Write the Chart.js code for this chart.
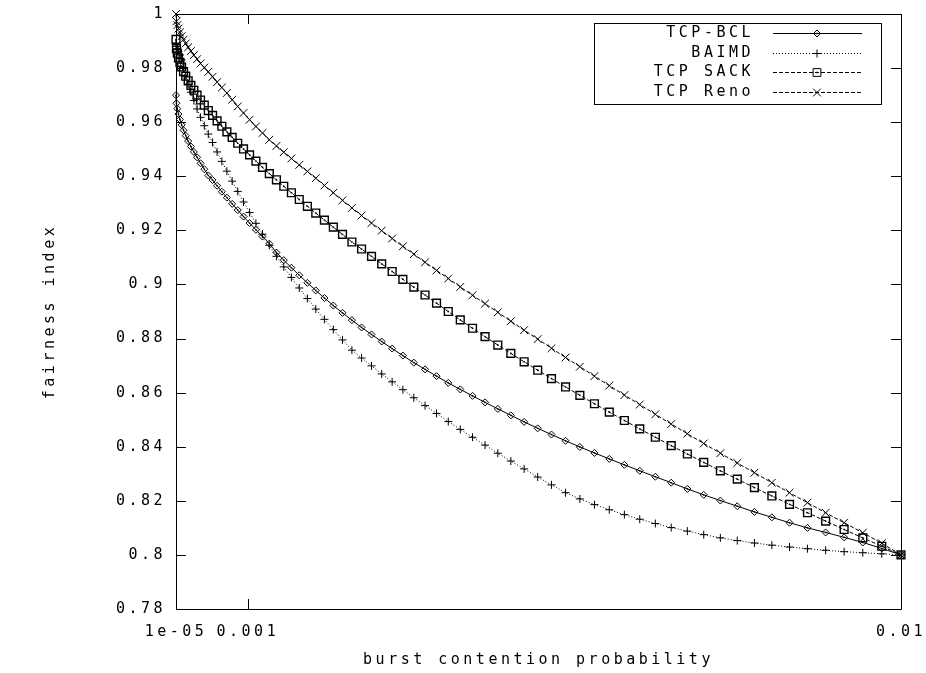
<!DOCTYPE html>
<html>
<head>
<meta charset="utf-8">
<title>fairness index vs burst contention probability</title>
<script src="https://cdn.jsdelivr.net/npm/chart.js@4.4.0/dist/chart.umd.min.js"></script>
<style>
  html, body { margin: 0; padding: 0; background: #fff; }
  canvas { display: block; }
</style>
</head>
<body>
<canvas id="fairness-chart" width="926" height="673"></canvas>
<script>
// burst contention probability, same sample points for every curve
const burstProb = [
  0.00001, 0.000016, 0.0000284, 0.0000444, 0.000064, 0.0000871, 0.0001138, 0.000144, 0.0001778, 0.0002151,
  0.000256, 0.0003004, 0.0003484, 0.0004, 0.0004551, 0.0005138, 0.000576, 0.0006418, 0.0007111, 0.000784,
  0.0008604, 0.0009404, 0.001024, 0.0011111, 0.0012018, 0.001296, 0.0013938, 0.0014951, 0.0016, 0.0017084,
  0.0018204, 0.001936, 0.0020551, 0.0021778, 0.002304, 0.0024338, 0.0025671, 0.002704, 0.0028444, 0.0029884,
  0.003136, 0.0032871, 0.0034418, 0.0036, 0.0037618, 0.0039271, 0.004096, 0.0042684, 0.0044444, 0.004624,
  0.0048071, 0.0049938, 0.005184, 0.0053778, 0.0055751, 0.005776, 0.0059804, 0.0061884, 0.0064, 0.0066151,
  0.0068338, 0.007056, 0.0072818, 0.0075111, 0.007744, 0.0079804, 0.0082204, 0.008464, 0.0087111, 0.0089618,
  0.009216, 0.0094738, 0.0097351, 0.01
];

// fairness index per curve
const tcpBcl = [
  0.970, 0.967, 0.965, 0.963, 0.961, 0.959, 0.957, 0.955, 0.953, 0.951,
  0.949, 0.947, 0.9448, 0.9426, 0.9403, 0.9386, 0.9365, 0.9343, 0.9321, 0.9298,
  0.9275, 0.9251, 0.9227, 0.9202, 0.9177, 0.9151, 0.9118, 0.909, 0.9062, 0.9034,
  0.9006, 0.8978, 0.895, 0.8922, 0.8895, 0.8868, 0.8841, 0.8815, 0.8789, 0.8763,
  0.8737, 0.8711, 0.8686, 0.8661, 0.8636, 0.8612, 0.8588, 0.8564, 0.854, 0.8516,
  0.8492, 0.8468, 0.8445, 0.8422, 0.8399, 0.8377, 0.8355, 0.8333, 0.8311, 0.8289,
  0.8267, 0.8244, 0.8222, 0.8201, 0.818, 0.8159, 0.8139, 0.8119, 0.81, 0.8083,
  0.8065, 0.8046, 0.8024, 0.8
];
const baimd = [
  0.989, 0.988, 0.9872, 0.9862, 0.9848, 0.983, 0.980, 0.977, 0.9741, 0.9711,
  0.968, 0.9649, 0.9618, 0.9587, 0.9556, 0.9525, 0.949, 0.9455, 0.9419, 0.9382,
  0.9344, 0.9305, 0.9266, 0.9226, 0.9186, 0.9145, 0.9104, 0.9065, 0.9026, 0.8987,
  0.8948, 0.8909, 0.8871, 0.8833, 0.8795, 0.8757, 0.8728, 0.8699, 0.8669, 0.864,
  0.8611, 0.8581, 0.8552, 0.8523, 0.8493, 0.8464, 0.8435, 0.8406, 0.8376, 0.8347,
  0.8318, 0.8288, 0.8259, 0.823, 0.8207, 0.8186, 0.8167, 0.8149, 0.8132, 0.8116,
  0.8101, 0.8088, 0.8075, 0.8063, 0.8053, 0.8044, 0.8036, 0.8029, 0.8023, 0.8017,
  0.8012, 0.8008, 0.8004, 0.8
];
const tcpSack = [
  0.9906, 0.9872, 0.9855, 0.9838, 0.9821, 0.9804, 0.9787, 0.977, 0.9753, 0.9736,
  0.9718, 0.97, 0.9682, 0.9663, 0.9643, 0.9625, 0.9605, 0.9585, 0.9564, 0.9544,
  0.9522, 0.9501, 0.9479, 0.9456, 0.9433, 0.941, 0.9387, 0.9363, 0.9339, 0.9314,
  0.9289, 0.9264, 0.9238, 0.9212, 0.9185, 0.9157, 0.9131, 0.9104, 0.9076, 0.9048,
  0.9019, 0.899, 0.8961, 0.8931, 0.89, 0.8869, 0.8838, 0.8807, 0.8776, 0.8745,
  0.8714, 0.8683, 0.8652, 0.8621, 0.859, 0.8559, 0.8528, 0.8497, 0.8466, 0.8435,
  0.8404, 0.8373, 0.8342, 0.8311, 0.828, 0.8249, 0.8218, 0.8187, 0.8156, 0.8125,
  0.8094, 0.8063, 0.8032, 0.8
];
const tcpReno = [
  1.0, 0.9973, 0.9959, 0.9946, 0.9932, 0.9918, 0.9905, 0.9891, 0.9877, 0.9863,
  0.9848, 0.9833, 0.9817, 0.9802, 0.9786, 0.9768, 0.9748, 0.9728, 0.9708, 0.9683,
  0.9658, 0.9634, 0.9609, 0.9584, 0.956, 0.9535, 0.9512, 0.9489, 0.9466, 0.9442,
  0.9418, 0.9393, 0.9366, 0.9339, 0.9311, 0.9283, 0.9255, 0.9227, 0.9199, 0.917,
  0.9141, 0.9112, 0.9082, 0.9052, 0.9022, 0.8991, 0.896, 0.8929, 0.8897, 0.8864,
  0.8831, 0.8798, 0.8764, 0.873, 0.8696, 0.8661, 0.8626, 0.8591, 0.8556, 0.852,
  0.8484, 0.8448, 0.8412, 0.8376, 0.834, 0.8304, 0.8267, 0.823, 0.8193, 0.8156,
  0.8119, 0.8082, 0.8043, 0.8
];

const seriesNames = ['TCP-BCL', 'BAIMD', 'TCP SACK', 'TCP Reno'];

const xTicks = [0.00001, 0.001, 0.01];
const xTickLabels = ['1e-05', '0.001', '0.01'];
const yTicks = [0.78, 0.8, 0.82, 0.84, 0.86, 0.88, 0.9, 0.92, 0.94, 0.96, 0.98, 1];
const yTickLabels = ['0.78', '0.8', '0.82', '0.84', '0.86', '0.88', '0.9', '0.92', '0.94', '0.96', '0.98', '1'];

const monoFont = { family: '"DejaVu Sans Mono", monospace', size: 15 };

function toPoints(ys) {
  return ys.map((y, i) => ({ x: burstProb[i], y: y }));
}

function makeSeries(name, ys, style) {
  return Object.assign({
    label: name,
    data: toPoints(ys),
    showLine: true,
    tension: 0,
    borderColor: '#000',
    borderWidth: 1,
    pointBorderColor: '#000',
    pointBackgroundColor: 'rgba(0,0,0,0)',
    pointBorderWidth: 1,
    clip: false
  }, style);
}

// gnuplot style wide letters
const wideText = {
  id: 'wideText',
  beforeDraw(chart) {
    chart.ctx.letterSpacing = '3.5px';
  }
};

// border box plus inward tick marks on all four sides
const frame = {
  id: 'frame',
  beforeDatasetsDraw(chart) {
    const { ctx, chartArea: a, scales: { x, y } } = chart;
    ctx.save();
    ctx.strokeStyle = '#000';
    ctx.lineWidth = 1;
    ctx.beginPath();
    ctx.rect(a.left + 0.5, a.top + 0.5, a.right - a.left, a.bottom - a.top);
    y.ticks.forEach(t => {
      const py = Math.round(y.getPixelForValue(t.value)) + 0.5;
      ctx.moveTo(a.left, py); ctx.lineTo(a.left + 10, py);
      ctx.moveTo(a.right, py); ctx.lineTo(a.right - 10, py);
    });
    x.ticks.forEach(t => {
      const px = Math.round(x.getPixelForValue(t.value)) + 0.5;
      ctx.moveTo(px, a.bottom); ctx.lineTo(px, a.bottom - 10);
      ctx.moveTo(px, a.top); ctx.lineTo(px, a.top + 10);
    });
    ctx.stroke();
    ctx.restore();
  }
};

// little dot in the middle of the hollow markers
const centerDots = {
  id: 'centerDots',
  afterDatasetsDraw(chart) {
    const ctx = chart.ctx;
    ctx.save();
    ctx.fillStyle = '#000';
    chart.data.datasets.forEach((ds, i) => {
      if (!ds.centerDot) return;
      chart.getDatasetMeta(i).data.forEach(pt => {
        ctx.fillRect(pt.x - 0.75, pt.y - 0.75, 1.5, 1.5);
      });
    });
    ctx.restore();
  }
};

// key box in the top right corner
const keyBox = {
  id: 'keyBox',
  afterDraw(chart) {
    const ctx = chart.ctx;
    ctx.save();
    ctx.strokeStyle = '#000';
    ctx.fillStyle = '#000';
    ctx.lineWidth = 1;
    ctx.strokeRect(594.5, 23.5, 287, 81);
    ctx.font = '15px "DejaVu Sans Mono", monospace';
    ctx.textAlign = 'right';
    ctx.textBaseline = 'middle';
    chart.data.datasets.forEach((ds, i) => {
      const yy = 33 + i * 19.7;
      ctx.setLineDash([]);
      ctx.fillText(ds.label, 754, yy);
      ctx.beginPath();
      ctx.setLineDash(ds.borderDash || []);
      ctx.moveTo(773, Math.round(yy) + 0.5);
      ctx.lineTo(862, Math.round(yy) + 0.5);
      ctx.stroke();
      ctx.setLineDash([]);
      ctx.fillStyle = 'rgba(0,0,0,0)';
      Chart.helpers.drawPoint(ctx, {
        pointStyle: ds.pointStyle, radius: ds.pointRadius, rotation: 0, borderWidth: ds.pointBorderWidth
      }, 817, Math.round(yy) + 0.5);
      ctx.fillStyle = '#000';
      if (ds.centerDot) ctx.fillRect(816.25, Math.round(yy) - 0.25, 1.5, 1.5);
    });
    ctx.restore();
  }
};

new Chart(document.getElementById('fairness-chart'), {
  type: 'scatter',
  data: {
    datasets: [
      makeSeries(seriesNames[0], tcpBcl, { pointStyle: 'rectRot', pointRadius: 3.5, centerDot: true }),
      makeSeries(seriesNames[1], baimd, { pointStyle: 'cross', pointRadius: 4, borderDash: [1, 2] }),
      makeSeries(seriesNames[2], tcpSack, { pointStyle: 'rect', pointRadius: 5.5, pointBorderWidth: 1.4, borderDash: [4, 2], centerDot: true }),
      makeSeries(seriesNames[3], tcpReno, { pointStyle: 'crossRot', pointRadius: 5.5, borderDash: [4, 2] })
    ]
  },
  options: {
    responsive: false,
    animation: false,
    devicePixelRatio: 1,
    layout: { padding: { left: 0, right: 25, top: 14, bottom: 0 }, autoPadding: false },
    plugins: {
      legend: { display: false },
      tooltip: { enabled: false }
    },
    scales: {
      x: {
        type: 'linear',
        min: 0.00001,
        max: 0.01,
        afterBuildTicks: s => { s.ticks = xTicks.map(v => ({ value: v })); },
        afterFit: s => { s.height = 64; s.paddingLeft = 0; s.paddingRight = 0; },
        ticks: {
          autoSkip: false, maxRotation: 0, padding: 14, color: '#000', font: monoFont,
          callback: (v, i) => xTickLabels[i]
        },
        grid: { display: false, drawTicks: false },
        border: { display: false },
        title: {
          display: true, text: 'burst contention probability', color: '#000', font: monoFont,
          padding: { top: 0, bottom: 4 }
        }
      },
      y: {
        type: 'linear',
        min: 0.78,
        max: 1,
        afterBuildTicks: s => { s.ticks = yTicks.map(v => ({ value: v })); },
        afterFit: s => { s.width = 176; s.paddingTop = 0; s.paddingBottom = 0; },
        ticks: {
          autoSkip: false, padding: 10, color: '#000', font: monoFont,
          callback: (v, i) => yTickLabels[i]
        },
        grid: { display: false, drawTicks: false },
        border: { display: false },
        title: {
          display: true, text: 'fairness index', color: '#000', font: monoFont,
          padding: { top: 41, bottom: 0 }
        }
      }
    }
  },
  plugins: [wideText, frame, centerDots, keyBox]
});
</script>
</body>
</html>
